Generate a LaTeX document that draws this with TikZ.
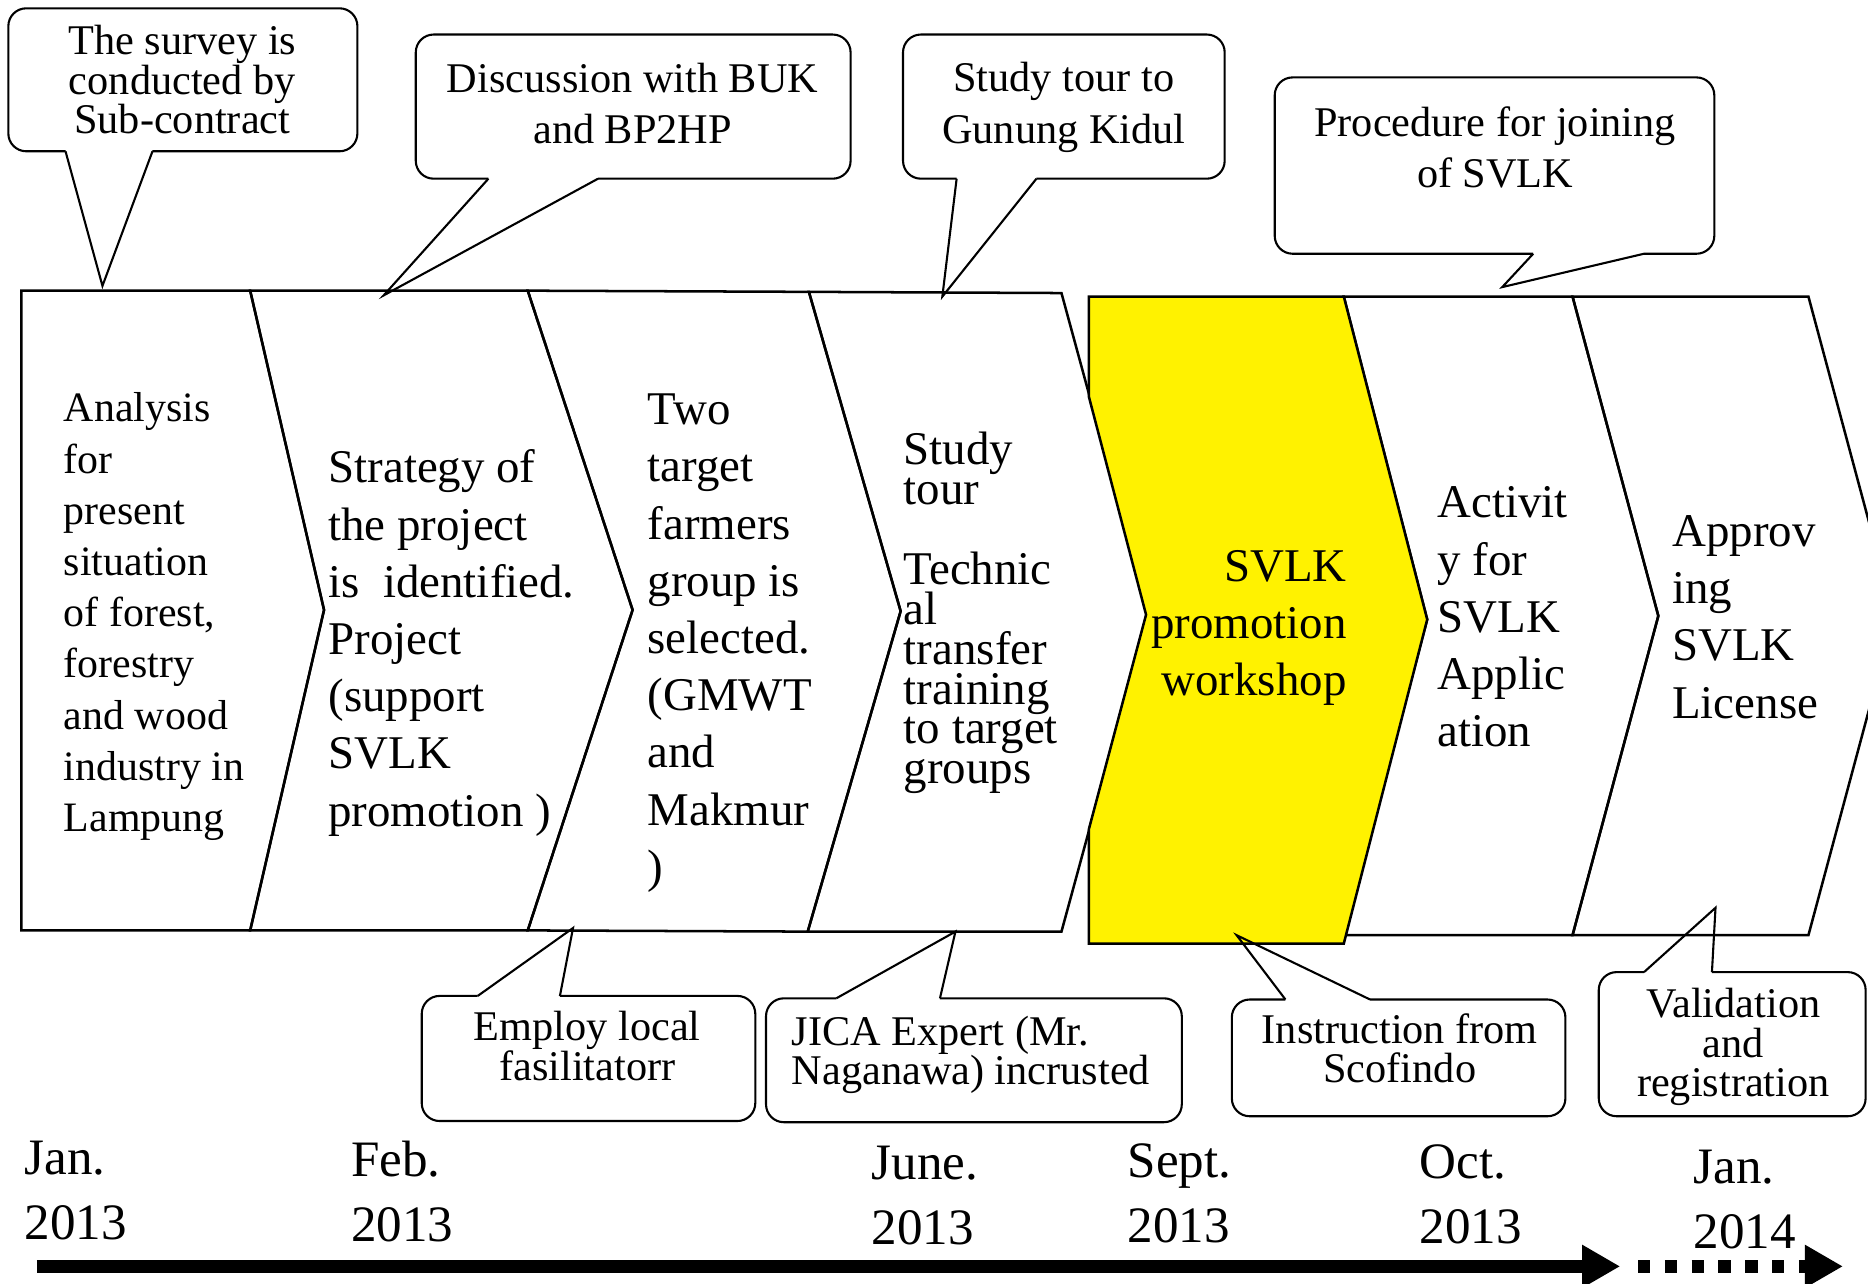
\documentclass[tikz,border=0pt]{standalone}
\usepackage{fontspec}
\setmainfont{Liberation Serif}
\usetikzlibrary{arrows.meta}
\setlength{\lineskiplimit}{-5pt}

\tikzset{
  chev/.style={draw, line width=0.6pt, line join=miter},
  chevtext/.style={inner sep=0pt, anchor=north west, align=left, font=\fontsize{11.2}{13.66}\selectfont},
  bubble/.style={draw, line width=0.5pt, rounded corners=1.5mm},
  tailline/.style={draw, line width=0.5pt, line join=miter},
  bubbletext/.style={inner sep=0pt, align=center},
  datelbl/.style={inner sep=0pt, anchor=north west, align=left, font=\fontsize{12.2}{15.5}\selectfont},
  timeline/.style={line width=1.06mm, -{Triangle[length=3.2mm,width=3.4mm]}}
}

\begin{document}
\begin{tikzpicture}[x=0.1mm, y=-0.1mm]
\useasboundingbox (0,0) rectangle (1568,1077);
\clip (0,0) rectangle (1568,1077);

% chevrons
\draw[chev] (18,244) -- (210,244) -- (272,512) -- (210,781) -- (18,781) -- cycle;
\draw[chev] (210,244) -- (443,244) -- (531,512) -- (443,781) -- (210,781) -- (272,512) -- cycle;
\draw[chev] (443,244) -- (679,245) -- (756,513) -- (678,782) -- (443,781) -- (531,512) -- cycle;
\draw[chev] (679,245) -- (891,246) -- (964,514) -- (891,782) -- (678,782) -- (756,513) -- cycle;
\draw[chev] (1128,249) -- (1320,249) -- (1392,517) -- (1320,785) -- (1128,785) -- (1198,520) -- cycle;
\draw[chev] (1320,249) -- (1518,249) -- (1590,517) -- (1518,785) -- (1320,785) -- (1392,517) -- cycle;
\draw[chev, fill=yellow] (914,249) -- (1128,249) -- (1198,520) -- (1128,792) -- (914,792)
  -- (914,696) -- (962,516) -- (914,333) -- cycle;

\node[chevtext, font=\fontsize{10}{12.23}\selectfont] (stage1) at (53,329)
  {Analysis\\for\\present\\situation\\of forest,\\forestry\\and wood\\industry in\\Lampung};
\node[chevtext] (stage2) at (275,377)
  {Strategy of\\the project\\is\ \ identified.\\Project\\(support\\SVLK\\promotion )};
\node[chevtext] (stage3) at (543,330)
  {Two\\target\\farmers\\group is\\selected.\\(GMWT\\and\\Makmur\\)};
\node[chevtext, font=\fontsize{11.2}{9.53}\selectfont] (stage4) at (758,362)
  {Study\\tour\\[9.53pt]Technic\\al\\transfer\\training\\to target\\groups};
\node[chevtext, anchor=north east, align=right] (stage5) at (1131,461)
  {SVLK\\promotion\\workshop};
\node[chevtext] (stage6) at (1206,408) {Activit\\y for\\SVLK\\Applic\\ation};
\node[chevtext] (stage7) at (1403,432) {Approv\\ing\\SVLK\\License};

% callouts above
\draw[tailline] (55,127) -- (86,240) -- (128,127);
\draw[bubble] (55,127) -- (7,127) -- (7,7) -- (300,7) -- (300,127) -- (128,127);
\draw[tailline] (410,150) -- (322,248) -- (502,150);
\draw[bubble] (410,150) -- (349,150) -- (349,29) -- (714,29) -- (714,150) -- (502,150);
\draw[tailline] (803,150) -- (791,249) -- (870,150);
\draw[bubble] (803,150) -- (758,150) -- (758,29) -- (1028,29) -- (1028,150) -- (870,150);
\draw[tailline] (1287,213) -- (1261,241) -- (1380,213);
\draw[bubble] (1287,213) -- (1070,213) -- (1070,65) -- (1439,65) -- (1439,213) -- (1380,213);

\node[bubbletext, font=\fontsize{10.1}{9.45}\selectfont] (note1) at (153,67)
  {The survey is\\conducted by\\Sub-contract};
\node[bubbletext, font=\fontsize{10.1}{12.3}\selectfont] (note2) at (531,87)
  {Discussion with BUK\\and BP2HP};
\node[bubbletext, font=\fontsize{10.1}{12.3}\selectfont] (note3) at (893,90)
  {Study tour to\\Gunung Kidul};
\node[bubbletext, font=\fontsize{10.1}{12.1}\selectfont] (note4) at (1255,124)
  {Procedure for joining\\of SVLK};

% callouts below
\draw[tailline] (401,836) -- (481,779) -- (470,836);
\draw[bubble] (470,836) -- (634,836) -- (634,941) -- (354,941) -- (354,836) -- (401,836);
\draw[tailline] (702,838) -- (802,782) -- (789,838);
\draw[bubble] (789,838) -- (992,838) -- (992,942) -- (643,942) -- (643,838) -- (702,838);
\draw[tailline] (1079,839) -- (1038,785) -- (1150,839);
\draw[bubble] (1150,839) -- (1314,839) -- (1314,937) -- (1034,937) -- (1034,839) -- (1079,839);
\draw[tailline] (1380,816) -- (1440,762) -- (1437,816);
\draw[bubble] (1437,816) -- (1566,816) -- (1566,937) -- (1342,937) -- (1342,816) -- (1380,816);

\node[bubbletext, font=\fontsize{10.1}{9.5}\selectfont] (note5) at (493,878)
  {Employ local\\fasilitatorr};
\node[bubbletext, anchor=north west, align=left, font=\fontsize{10.1}{9.4}\selectfont] (note6) at (664,852)
  {JICA Expert (Mr.\\Naganawa) incrusted};
\node[bubbletext, font=\fontsize{10.1}{9.4}\selectfont] (note7) at (1175,880)
  {Instruction from\\Scofindo};
\node[bubbletext, font=\fontsize{10.1}{9.4}\selectfont] (note8) at (1455,879)
  {Validation\\and\\registration};

% time axis
\node[datelbl] (date1) at (20,957) {Jan.\\2013};
\node[datelbl] (date2) at (294,957) {Feb.\\2013};
\node[datelbl] (date3) at (731,961) {June.\\2013};
\node[datelbl] (date4) at (946,959) {Sept.\\2013};
\node[datelbl] (date5) at (1191,960) {Oct.\\2013};
\node[datelbl] (date6) at (1421,965) {Jan.\\2014};

\coordinate (t0) at (31,1063);
\coordinate (t1) at (1360,1063);
\coordinate (t2) at (1375,1063);
\coordinate (t3) at (1547,1063);
\draw[timeline] (t0) -- (t1);
\draw[timeline, dash pattern=on 1.04mm off 1.21mm] (t2) -- (t3);

\end{tikzpicture}
\end{document}
